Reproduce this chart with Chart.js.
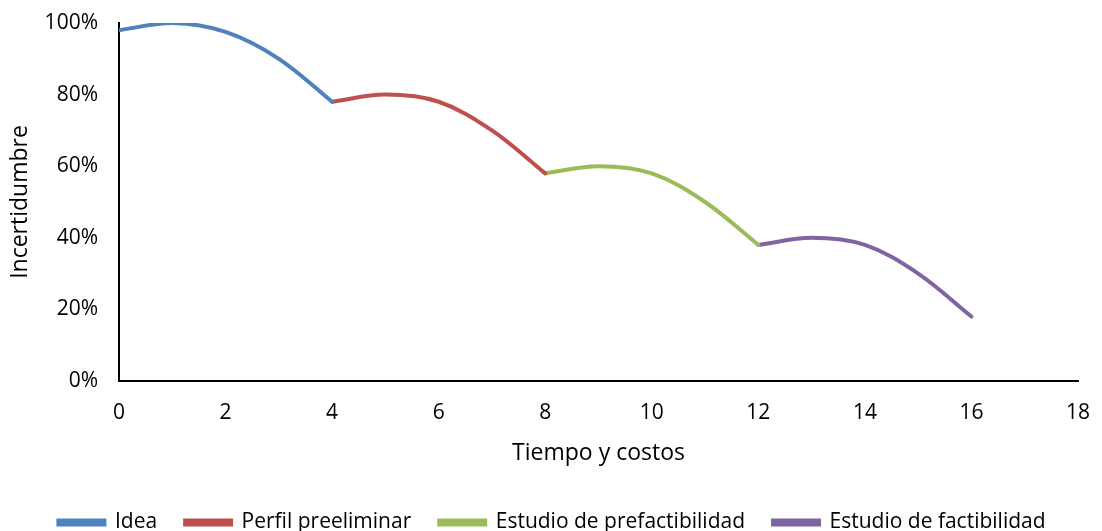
<!DOCTYPE html>
<html><head><meta charset="utf-8">
<script src="https://cdn.jsdelivr.net/npm/chart.js@4.4.1/dist/chart.umd.min.js"></script>
<style>html,body{margin:0;padding:0;background:#fff;overflow:hidden;}#wrap{width:1102px;height:531px;position:relative;overflow:hidden;}</style>
</head><body><div id="wrap"><canvas id="c" width="1102" height="543"></canvas></div>
<script>
const seriesNames = ["Idea", "Perfil preeliminar", "Estudio de prefactibilidad", "Estudio de factibilidad"];
const ideaX = [0, 1, 2, 3, 4];
const ideaY = [0.98, 1.00, 0.975, 0.90, 0.78];
const perfilX = [4, 5, 6, 7, 8];
const perfilY = [0.78, 0.80, 0.78, 0.70, 0.58];
const prefactX = [8, 9, 10, 11, 12];
const prefactY = [0.58, 0.60, 0.58, 0.50, 0.38];
const factX = [12, 13, 14, 15, 16];
const factY = [0.38, 0.40, 0.38, 0.30, 0.18];
const colors = ["#4F81BD", "#C0504D", "#9BBB59", "#8064A2"];
const xTicks = [0, 2, 4, 6, 8, 10, 12, 14, 16, 18];
const yTicks = [0, 0.2, 0.4, 0.6, 0.8, 1.0];

const FONT = "'Open Sans'";
const pts = (xs, ys) => xs.map((x, i) => ({x: x, y: ys[i]}));
const allX = [ideaX, perfilX, prefactX, factX];
const allY = [ideaY, perfilY, prefactY, factY];
const datasets = seriesNames.map((n, i) => ({
  label: n,
  data: pts(allX[i], allY[i]),
  borderColor: colors[i],
  backgroundColor: colors[i],
  borderWidth: 4,
  pointRadius: 0,
  tension: 0.35,
  borderCapStyle: 'round',
  fill: false
}));

const shiftLegend = {
  id: 'shiftLegend',
  afterLayout(chart) {
    if (chart.legend) { chart.legend.left += 13; chart.legend.right += 13; }
  }
};

new Chart(document.getElementById('c'), {
  type: 'line',
  data: { datasets },
  plugins: [shiftLegend],
  options: {
    responsive: false,
    animation: false,
    layout: { padding: { left: 0, right: 24, top: 23, bottom: 0 } },
    plugins: {
      legend: {
        position: 'bottom',
        labels: {
          boxWidth: 46, boxHeight: 4, padding: 28,
          color: '#000', font: { family: FONT, size: 21 }
        }
      },
      tooltip: { enabled: false }
    },
    scales: {
      x: {
        type: 'linear', min: 0, max: 18,
        afterBuildTicks: s => { s.ticks = xTicks.map(v => ({value: v})); },
        afterFit: s => { s.height = 103; s.paddingLeft = 0; s.paddingRight = 0; },
        grid: { display: false, drawTicks: false },
        border: { display: true, color: '#000', width: 2 },
        ticks: { color: '#000', font: { family: FONT, size: 21 }, padding: 19, maxRotation: 0 },
        title: { display: true, text: 'Tiempo y costos', color: '#000', font: { family: FONT, size: 23 }, padding: { top: 0, bottom: 17 } }
      },
      y: {
        min: 0, max: 1,
        afterBuildTicks: s => { s.ticks = yTicks.map(v => ({value: v})); },
        afterFit: s => { s.width = 119; s.paddingTop = 0; s.paddingBottom = 0; },
        grid: { display: false, drawTicks: false },
        border: { display: true, color: '#000', width: 2 },
        ticks: { color: '#000', font: { family: FONT, size: 21 }, padding: 21,
          callback: v => Math.round(v * 100) + '%' },
        title: { display: true, text: 'Incertidumbre', color: '#000', font: { family: FONT, size: 23 }, padding: { top: 7, bottom: 4 } }
      }
    }
  }
});
</script></body></html>
